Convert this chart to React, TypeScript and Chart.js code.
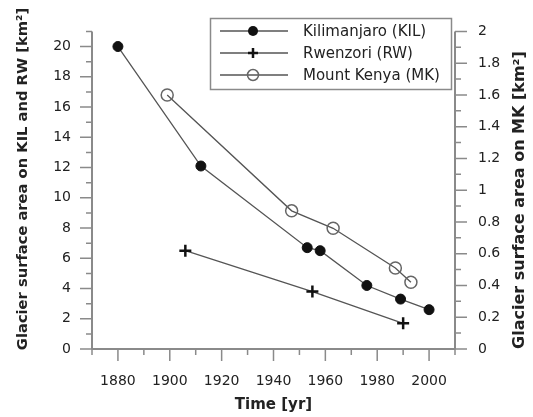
import React, { useEffect, useRef } from 'react';
import { Chart, registerables } from 'chart.js';

Chart.register(...registerables);

// ---- data ----
const kilYears = [1880, 1912, 1953, 1958, 1976, 1989, 2000];
const kilArea = [20, 12.1, 6.7, 6.5, 4.2, 3.3, 2.6];
const rwYears = [1906, 1955, 1990];
const rwArea = [6.5, 3.8, 1.7];
const mkYears = [1899, 1947, 1963, 1987, 1993];
const mkArea = [1.6, 0.87, 0.76, 0.51, 0.42];

const seriesNames = ['Kilimanjaro (KIL)', 'Rwenzori (RW)', 'Mount Kenya (MK)'];

const xTickValues = [1870, 1880, 1890, 1900, 1910, 1920, 1930, 1940, 1950, 1960, 1970, 1980, 1990, 2000, 2010];
const xTickLabels = ['', '1880', '', '1900', '', '1920', '', '1940', '', '1960', '', '1980', '', '2000', ''];
const yTickValues = [0, 1, 2, 3, 4, 5, 6, 7, 8, 9, 10, 11, 12, 13, 14, 15, 16, 17, 18, 19, 20, 21];
const yTickLabels = ['0', '', '2', '', '4', '', '6', '', '8', '', '10', '', '12', '', '14', '', '16', '', '18', '', '20', ''];
const y2TickValues = [0, 0.1, 0.2, 0.3, 0.4, 0.5, 0.6, 0.7, 0.8, 0.9, 1, 1.1, 1.2, 1.3, 1.4, 1.5, 1.6, 1.7, 1.8, 1.9, 2];
const y2TickLabels = ['0', '', '0.2', '', '0.4', '', '0.6', '', '0.8', '', '1', '', '1.2', '', '1.4', '', '1.6', '', '1.8', '', '2'];

const xTitle = 'Time [yr]';
const yTitle = 'Glacier surface area on KIL and RW [km²]';
const y2Title = 'Glacier surface area on MK [km²]';

const FONT = '"DejaVu Sans", Arial, sans-serif';
const AXIS_COLOR = '#8a8a8a';
const LINE_COLOR = '#555555';
const TEXT_COLOR = '#222222';

function drawMarker(ctx: CanvasRenderingContext2D, kind: number, x: number, y: number) {
  ctx.save();
  if (kind === 0) {
    ctx.fillStyle = '#111';
    ctx.beginPath();
    ctx.arc(x, y, 5, 0, Math.PI * 2);
    ctx.fill();
  } else if (kind === 1) {
    ctx.strokeStyle = '#111';
    ctx.lineWidth = 2.5;
    ctx.beginPath();
    ctx.moveTo(x - 5, y);
    ctx.lineTo(x + 5, y);
    ctx.moveTo(x, y - 5);
    ctx.lineTo(x, y + 5);
    ctx.stroke();
  } else {
    ctx.strokeStyle = '#666';
    ctx.lineWidth = 1.5;
    ctx.beginPath();
    ctx.arc(x, y, 5.5, 0, Math.PI * 2);
    ctx.stroke();
  }
  ctx.restore();
}

const decorPlugin = {
  id: 'decor',
  beforeDatasetsDraw(chart: any) {
    const { ctx, chartArea } = chart;
    const { left, right, top, bottom } = chartArea;
    const xs = chart.scales.x;
    const ys = chart.scales.y;
    const y2s = chart.scales.y2;
    ctx.save();
    ctx.strokeStyle = AXIS_COLOR;
    ctx.lineWidth = 2;
    ctx.beginPath();
    ctx.moveTo(left, top);
    ctx.lineTo(left, bottom);
    ctx.moveTo(left, bottom);
    ctx.lineTo(right, bottom);
    ctx.moveTo(right, top);
    ctx.lineTo(right, bottom);
    ctx.stroke();
    ctx.lineWidth = 1.5;
    ctx.beginPath();
    xTickValues.forEach((v, i) => {
      const px = xs.getPixelForValue(v);
      const len = xTickLabels[i] ? 12 : 6;
      ctx.moveTo(px, bottom);
      ctx.lineTo(px, bottom + len);
    });
    yTickValues.forEach((v, i) => {
      const py = ys.getPixelForValue(v);
      const len = yTickLabels[i] ? 12 : 6;
      ctx.moveTo(left, py);
      ctx.lineTo(left - len, py);
    });
    y2TickValues.forEach((v, i) => {
      const py = y2s.getPixelForValue(v);
      const len = y2TickLabels[i] ? 12 : 6;
      ctx.moveTo(right, py);
      ctx.lineTo(right + len, py);
    });
    ctx.stroke();

    // titles
    ctx.fillStyle = TEXT_COLOR;
    ctx.textAlign = 'center';
    ctx.textBaseline = 'middle';
    ctx.font = 'bold 15px ' + FONT;
    ctx.fillText(xTitle, (left + right) / 2, 405);
    ctx.save();
    ctx.font = 'bold 14.7px ' + FONT;
    ctx.translate(23, 179);
    ctx.rotate(-Math.PI / 2);
    ctx.fillText(yTitle, 0, 0);
    ctx.restore();
    ctx.save();
    ctx.font = 'bold 16px ' + FONT;
    ctx.translate(520, 200);
    ctx.rotate(-Math.PI / 2);
    ctx.fillText(y2Title, 0, 0);
    ctx.restore();

    // legend
    ctx.strokeStyle = AXIS_COLOR;
    ctx.lineWidth = 1.5;
    ctx.strokeRect(210.5, 18.5, 241, 71);
    const rows = [31, 53, 75];
    ctx.font = '15px ' + FONT;
    ctx.textAlign = 'left';
    rows.forEach((ry, i) => {
      ctx.strokeStyle = LINE_COLOR;
      ctx.lineWidth = 1.3;
      ctx.beginPath();
      ctx.moveTo(220, ry);
      ctx.lineTo(288, ry);
      ctx.stroke();
      drawMarker(ctx, i, 253, ry);
      ctx.fillStyle = TEXT_COLOR;
      ctx.fillText(seriesNames[i], 303, ry + 1);
    });
    ctx.restore();
  },
};

export default function App() {
  const ref = useRef<HTMLCanvasElement>(null);
  useEffect(() => {
    document.body.style.margin = '0';
    const canvas = ref.current!;
    const tickFont = { family: FONT, size: 14 };
    const gridOpts = { display: false, drawTicks: false, tickLength: 0 };
    const chart = new Chart(canvas, {
      type: 'scatter',
      data: {
        datasets: [
          {
            label: seriesNames[0],
            data: kilYears.map((x, i) => ({ x, y: kilArea[i] })),
            yAxisID: 'y',
            showLine: true,
            borderColor: LINE_COLOR,
            borderWidth: 1.3,
            pointStyle: 'circle',
            pointRadius: 5,
            pointBackgroundColor: '#111',
            pointBorderColor: '#111',
            pointBorderWidth: 1,
          },
          {
            label: seriesNames[1],
            data: rwYears.map((x, i) => ({ x, y: rwArea[i] })),
            yAxisID: 'y',
            showLine: true,
            borderColor: LINE_COLOR,
            borderWidth: 1.3,
            pointStyle: 'cross',
            pointRadius: 6,
            pointBorderColor: '#111',
            pointBorderWidth: 2.5,
          },
          {
            label: seriesNames[2],
            data: mkYears.map((x, i) => ({ x, y: mkArea[i] })),
            yAxisID: 'y2',
            showLine: true,
            borderColor: LINE_COLOR,
            borderWidth: 1.3,
            pointStyle: 'circle',
            pointRadius: 6,
            pointBackgroundColor: 'rgba(255,255,255,0)',
            pointBorderColor: '#666',
            pointBorderWidth: 1.5,
          },
        ],
      },
      plugins: [decorPlugin],
      options: {
        responsive: false,
        animation: false,
        layout: { padding: { top: 17, left: 0, right: 0, bottom: 0 } },
        plugins: { legend: { display: false }, tooltip: { enabled: false } },
        scales: {
          x: {
            type: 'linear',
            position: 'bottom',
            min: 1870,
            max: 2010,
            afterBuildTicks: (s: any) => {
              s.ticks = xTickValues.map((v) => ({ value: v }));
            },
            afterFit: (s: any) => {
              s.height = 68;
            },
            grid: gridOpts,
            border: { display: false },
            ticks: {
              autoSkip: false,
              maxRotation: 0,
              padding: 24,
              color: TEXT_COLOR,
              font: tickFont,
              callback: (_v: any, i: number) => xTickLabels[i],
            },
          },
          y: {
            type: 'linear',
            position: 'left',
            min: 0,
            max: 21,
            afterBuildTicks: (s: any) => {
              s.ticks = yTickValues.map((v) => ({ value: v }));
            },
            afterFit: (s: any) => {
              s.width = 92;
            },
            grid: gridOpts,
            border: { display: false },
            ticks: {
              autoSkip: false,
              padding: 21,
              color: TEXT_COLOR,
              font: tickFont,
              callback: (_v: any, i: number) => yTickLabels[i],
            },
          },
          y2: {
            type: 'linear',
            position: 'right',
            min: 0,
            max: 2,
            afterBuildTicks: (s: any) => {
              s.ticks = y2TickValues.map((v) => ({ value: v }));
            },
            afterFit: (s: any) => {
              s.width = 78;
            },
            grid: gridOpts,
            border: { display: false },
            ticks: {
              autoSkip: false,
              padding: 23,
              color: TEXT_COLOR,
              font: tickFont,
              callback: (_v: any, i: number) => y2TickLabels[i],
            },
          },
        },
      },
    });
    return () => chart.destroy();
  }, []);
  return (
    <div style={{ width: 533, height: 417 }}>
      <canvas ref={ref} width={533} height={417} />
    </div>
  );
}
